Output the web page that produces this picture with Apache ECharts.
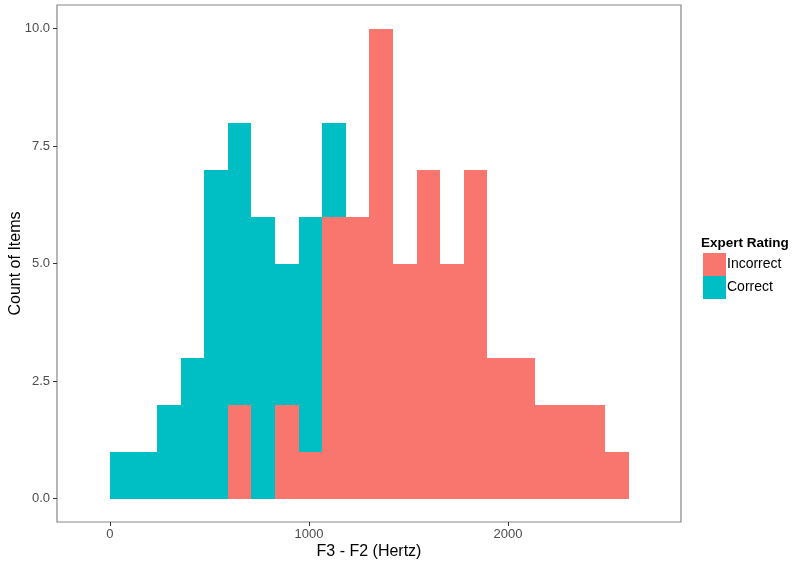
<!DOCTYPE html>
<html>
<head>
<meta charset="utf-8">
<script src="https://cdn.jsdelivr.net/npm/echarts@6/dist/echarts.min.js"></script>
<style>
html,body{margin:0;padding:0;background:#fff;}
#chart{width:800px;height:571px;}
</style>
</head>
<body>
<div id="chart"></div>
<script>
// Histogram bins (Hz): first bin starts at 0, each bin is binWidth wide
const binStart = 0;
const binWidth = 118.5;
// Counts per bin, stacked: Incorrect at bottom, Correct on top
const incorrectCounts = [0,0,0,0,0,2,0,2,1,6,6,10,5,7,5,7,3,3,2,2,2,1];
const correctCounts   = [1,1,2,3,7,6,6,3,5,2,0,0,0,0,0,0,0,0,0,0,0,0];
const seriesNames = ['Incorrect','Correct'];
const xTicks = [0,1000,2000];
const yTicks = [0,2.5,5,7.5,10];

const colors = {Incorrect:'#F8766D', Correct:'#00BFC4'};

const incData = [], corData = [];
for (let i = 0; i < incorrectCounts.length; i++) {
  const x0 = binStart + i*binWidth, x1 = x0 + binWidth;
  incData.push([x0, x1, 0, incorrectCounts[i]]);
  corData.push([x0, x1, incorrectCounts[i], incorrectCounts[i] + correctCounts[i]]);
}

function renderRect(params, api) {
  const y0 = api.value(2), y1 = api.value(3);
  if (y1 <= y0) return null;
  const p0 = api.coord([api.value(0), y1]);
  const p1 = api.coord([api.value(1), y0]);
  const xa = Math.round(p0[0]), xb = Math.round(p1[0]);
  const ya = Math.round(p0[1]), yb = Math.round(p1[1]);
  return {
    type: 'rect',
    shape: {x: xa, y: ya, width: xb - xa, height: yb - ya},
    style: {fill: api.visual('color')}
  };
}

const chart = echarts.init(document.getElementById('chart'), null, {renderer:'canvas'});
const font = 'Liberation Sans, Arial, sans-serif';
chart.setOption({
  animation: false,
  backgroundColor: '#fff',
  grid: {left: 57, right: 119, top: 5, bottom: 49, containLabel: false, outerBoundsMode: 'none',
         show: true, borderColor: '#858585', borderWidth: 1.2, backgroundColor: 'transparent'},
  title: {
    text: 'Expert Rating', left: 696, top: 231,
    textStyle: {fontFamily: font, fontSize: 13.5, fontWeight: 'bold', color: '#000'}
  },
  legend: {
    data: seriesNames.map(n => ({name: n, icon: 'rect', itemStyle: {color: colors[n]}})),
    orient: 'vertical', left: 698, top: 248,
    itemWidth: 23, itemHeight: 23, itemGap: 0,
    textStyle: {fontFamily: font, fontSize: 14, color: '#000', padding: [0,0,0,-4]},
    selectedMode: false
  },
  xAxis: {
    type: 'value', min: -266, max: 2869,
    name: 'F3 - F2 (Hertz)', nameLocation: 'middle', nameGap: 22, nameMoveOverlap: false,
    nameTextStyle: {fontFamily: font, fontSize: 16, color: '#000'},
    axisLine: {show: false, onZero: false},
    axisTick: {show: true, length: 4, customValues: xTicks, lineStyle: {color: '#333'}},
    axisLabel: {customValues: xTicks, fontFamily: font, fontSize: 13, color: '#4D4D4D', margin: 6,
      formatter: v => String(v)},
    splitLine: {show: false}
  },
  yAxis: {
    type: 'value', min: -0.5, max: 10.5,
    name: 'Count of Items', nameLocation: 'middle', nameGap: 33, nameMoveOverlap: false,
    nameTextStyle: {fontFamily: font, fontSize: 16, color: '#000'},
    axisLine: {show: false, onZero: false},
    axisTick: {show: true, length: 4, customValues: yTicks, lineStyle: {color: '#333'}},
    axisLabel: {customValues: yTicks, fontFamily: font, fontSize: 13, color: '#4D4D4D', margin: 7,
      formatter: v => v.toFixed(1)},
    splitLine: {show: false}
  },
  series: [
    {name: 'Incorrect', type: 'custom', renderItem: renderRect, data: incData,
     itemStyle: {color: colors.Incorrect}, encode: {x: [0,1], y: [2,3]}},
    {name: 'Correct', type: 'custom', renderItem: renderRect, data: corData,
     itemStyle: {color: colors.Correct}, encode: {x: [0,1], y: [2,3]}}
  ]
});
</script>
</body>
</html>
